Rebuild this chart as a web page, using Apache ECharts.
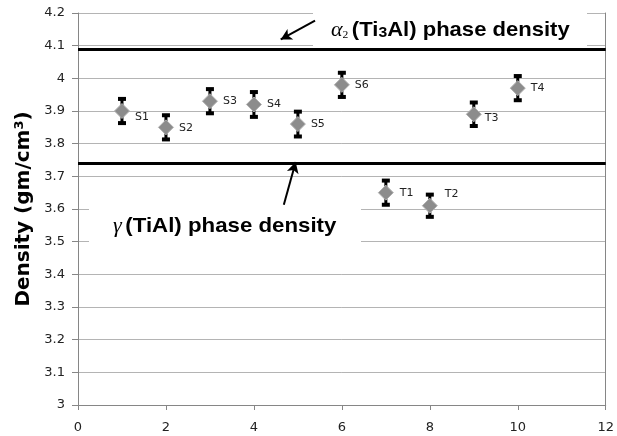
<!DOCTYPE html>
<html>
<head>
<meta charset="utf-8">
<script src="https://cdn.jsdelivr.net/npm/echarts@6/dist/echarts.min.js"></script>
<style>
  html, body { margin: 0; padding: 0; background: #fff; }
  #chart { width: 617px; height: 436px; }
</style>
</head>
<body>
<div id="chart"></div>
<script>
// Sample positions, names and measured densities (g/cm3)
const samplePos = [1, 2, 3, 4, 5, 6, 7, 8, 9, 10];
const sampleNames = ['S1', 'S2', 'S3', 'S4', 'S5', 'S6', 'T1', 'T2', 'T3', 'T4'];
const density = [3.90, 3.85, 3.93, 3.92, 3.86, 3.98, 3.65, 3.61, 3.89, 3.97];
const densityErr = [0.037, 0.037, 0.037, 0.038, 0.038, 0.037, 0.037, 0.034, 0.036, 0.037];

// Reference phase densities
const alpha2Density = 4.087;
const gammaDensity = 3.741;

// Axis ranges
const xRange = { min: 0, max: 12, step: 2 };
const yRange = { min: 3, max: 4.2, step: 0.1 };

const chart = echarts.init(document.getElementById('chart'), null, { renderer: 'canvas' });

const axisGray = '#868686';
const gridGray = '#b4b4b4';
const labelFont = 'DejaVu Sans';
const noteFont = 'Liberation Sans';

// Small label nudges so names sit clear of the error bars
const labelNudge = {
  S1: [0, 6], S2: [0, 1], T1: [1, 0], T2: [2, -12], T3: [-2, 4]
};

const scatterData = samplePos.map((x, i) => {
  const n = labelNudge[sampleNames[i]] || [0, 0];
  return {
    name: sampleNames[i],
    value: [x, density[i]],
    label: { offset: [n[0], n[1]] }
  };
});

const errData = samplePos.map((x, i) => [x, density[i] - densityErr[i], density[i] + densityErr[i]]);

const noteRich = {
  a: { fontFamily: 'Liberation Serif', fontStyle: 'italic', fontSize: 21, fill: '#000' },
  s: { fontFamily: 'Liberation Serif', fontSize: 11, fill: '#000', verticalAlign: 'bottom' },
  b: { fontFamily: noteFont, fontWeight: 'bold', fontSize: 21, fill: '#000' },
  t: { fontFamily: noteFont, fontWeight: 'bold', fontSize: 15, fill: '#000', verticalAlign: 'bottom' }
};

const option = {
  backgroundColor: '#fff',
  animation: false,
  grid: { left: 78, right: 8, top: 13, bottom: 31, containLabel: false },
  xAxis: {
    type: 'value',
    min: xRange.min, max: xRange.max, interval: xRange.step,
    axisLine: { show: true, lineStyle: { color: axisGray, width: 1 } },
    axisTick: { show: true, inside: false, length: 5, lineStyle: { color: axisGray } },
    axisLabel: { color: '#222', fontFamily: labelFont, fontSize: 13, margin: 16 },
    splitLine: { show: false }
  },
  yAxis: [{
    type: 'value',
    min: yRange.min, max: yRange.max, interval: yRange.step,
    name: 'Density (gm/cm{sup|3})',
    nameLocation: 'middle',
    nameGap: 42,
    nameTextStyle: {
      color: '#000', fontFamily: labelFont, fontWeight: 'bold', fontSize: 20,
      rich: { sup: { fontFamily: labelFont, fontWeight: 'bold', fontSize: 13, verticalAlign: 'top', color: '#000' } }
    },
    axisLine: { show: true, lineStyle: { color: axisGray, width: 1 } },
    axisTick: { show: true, length: 6, lineStyle: { color: axisGray } },
    axisLabel: { color: '#222', fontFamily: labelFont, fontSize: 13, margin: 13 },
    splitLine: { show: true, lineStyle: { color: gridGray, width: 1 } }
  }, {
    type: 'value',
    position: 'right',
    min: yRange.min, max: yRange.max, interval: yRange.step,
    axisLine: { show: true, lineStyle: { color: axisGray, width: 1 } },
    axisTick: { show: false },
    axisLabel: { show: false },
    splitLine: { show: false }
  }],
  graphic: [
    { type: 'rect', shape: { x: 313, y: 5, width: 274, height: 42 }, style: { fill: '#fff' }, z: 1 },
    { type: 'rect', shape: { x: 89, y: 207, width: 272, height: 41 }, style: { fill: '#fff' }, z: 1 },
    {
      type: 'text', x: 331, y: 30, z: 5, scaleX: 1.05,
      style: {
        text: '{a|α}{s|2} {b|(Ti}{t|3}{b|Al) phase density}',
        verticalAlign: 'middle',
        rich: noteRich
      }
    },
    {
      type: 'text', x: 113, y: 226, z: 5, scaleX: 1.06,
      style: {
        text: '{a|γ} {b|(TiAl) phase density}',
        verticalAlign: 'middle',
        rich: noteRich
      }
    }
  ],
  series: [
    {
      type: 'custom',
      name: 'error',
      z: 3,
      data: errData,
      encode: { x: 0, y: [1, 2] },
      renderItem: function (params, api) {
        const x = api.value(0);
        const top = api.coord([x, api.value(2)]);
        const bot = api.coord([x, api.value(1)]);
        return {
          type: 'group',
          children: [
            { type: 'line', shape: { x1: top[0], y1: top[1], x2: bot[0], y2: bot[1] }, style: { stroke: '#000', lineWidth: 3 } },
            { type: 'rect', shape: { x: top[0] - 4, y: top[1] - 2, width: 8, height: 4 }, style: { fill: '#000' } },
            { type: 'rect', shape: { x: bot[0] - 4, y: bot[1] - 2, width: 8, height: 4 }, style: { fill: '#000' } }
          ]
        };
      }
    },
    {
      type: 'scatter',
      name: 'density',
      z: 4,
      symbol: 'diamond',
      symbolSize: 15,
      itemStyle: { color: '#8c8c8c', borderColor: '#b0b0b0', borderWidth: 1, opacity: 1 },
      label: {
        show: true,
        position: 'right',
        distance: 5,
        formatter: '{b}',
        color: '#222',
        fontFamily: labelFont,
        fontSize: 11
      },
      emphasis: { disabled: true },
      data: scatterData,
      markLine: {
        silent: true,
        animation: false,
        z: 6,
        symbol: ['none', 'none'],
        label: { show: false },
        emphasis: { disabled: true },
        lineStyle: { color: '#000', width: 2, type: 'solid' },
        data: [
          { yAxis: alpha2Density, lineStyle: { color: '#000', width: 3, type: 'solid' } },
          { yAxis: gammaDensity, lineStyle: { color: '#000', width: 3, type: 'solid' } },
          [
            { coord: [5.39, 4.177], symbol: 'none' },
            { coord: [4.61, 4.119], symbol: 'arrow', symbolSize: [9, 11] }
          ],
          [
            { coord: [4.68, 3.613], symbol: 'none' },
            { coord: [4.95, 3.744], symbol: 'arrow', symbolSize: [9, 11] }
          ]
        ]
      }
    }
  ]
};

chart.setOption(option);
</script>
</body>
</html>
